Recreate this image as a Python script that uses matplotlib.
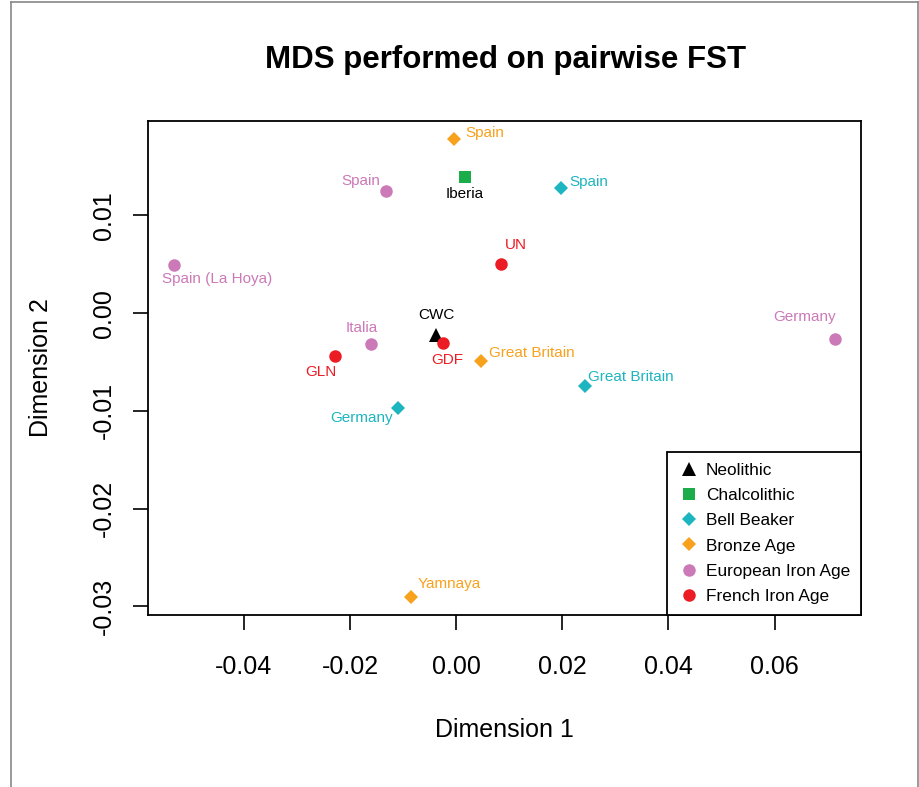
import matplotlib
matplotlib.use("Agg")
import matplotlib.pyplot as plt
from matplotlib.lines import Line2D

plt.rcParams['font.family'] = ['Liberation Sans', 'DejaVu Sans']

# populations
names = ["CWC", "Iberia", "Spain", "Great Britain", "Germany",
         "Spain", "Great Britain", "Yamnaya",
         "Spain", "Spain (La Hoya)", "Italia", "Germany",
         "UN", "GDF", "GLN"]
groups = ["Neolithic", "Chalcolithic", "Bell Beaker", "Bell Beaker", "Bell Beaker",
          "Bronze Age", "Bronze Age", "Bronze Age",
          "European Iron Age", "European Iron Age", "European Iron Age", "European Iron Age",
          "French Iron Age", "French Iron Age", "French Iron Age"]
dim1 = [-0.0039, 0.0016, 0.0197, 0.0243, -0.0109,
        -0.0004, 0.0046, -0.0085,
        -0.0132, -0.0531, -0.0160, 0.0714,
        0.0084, -0.0024, -0.0228]
dim2 = [-0.0022, 0.0139, 0.0128, -0.0075, -0.0097,
        0.0178, -0.0049, -0.0290,
        0.0125, 0.0049, -0.0032, -0.0027,
        0.0050, -0.0031, -0.0044]

group_order = ["Neolithic", "Chalcolithic", "Bell Beaker", "Bronze Age",
               "European Iron Age", "French Iron Age"]
group_col = {"Neolithic": "black", "Chalcolithic": "#1aad4a", "Bell Beaker": "#1db5c0",
             "Bronze Age": "#f7a11c", "European Iron Age": "#cc79b8",
             "French Iron Age": "#ec1c24"}
group_mark = {"Neolithic": ("^", 10), "Chalcolithic": ("s", 8.5), "Bell Beaker": ("D", 7),
              "Bronze Age": ("D", 7), "European Iron Age": ("o", 9),
              "French Iron Age": ("o", 9)}
black_labels = ["CWC", "Iberia"]

# label placement (offset in points, horizontal alignment), like R's text(pos=)
label_pos = [((0.5, 14), "center"), ((0, -12), "center"), ((6, 4), "left"),
             ((2, 7), "left"), ((-4, -7), "right"),
             ((8, 4), "left"), ((6, 6), "left"), ((4.5, 9), "left"),
             ((-4, 7), "right"), ((-9, -10), "left"), ((-7, 11.5), "center"),
             ((-22, 16), "center"),
             ((11, 14), "center"), ((3, -12), "center"), ((-10, -11.5), "center")]

fig = plt.figure(figsize=(9.2, 7.87), dpi=100)
ax = fig.add_axes([0.1609, 0.2186, 0.7755, 0.628])

for i in range(len(names)):
    g = groups[i]
    m, ms = group_mark[g]
    ax.plot(dim1[i], dim2[i], linestyle="none", marker=m, markersize=ms,
            color=group_col[g], markeredgewidth=0, zorder=3)
    (dx, dy), ha = label_pos[i]
    tcol = "black" if (names[i] in black_labels and g in ["Neolithic", "Chalcolithic"]) else group_col[g]
    ax.annotate(names[i], (dim1[i], dim2[i]), xytext=(dx, dy), textcoords="offset points",
                ha=ha, va="center", fontsize=11, color=tcol)

# R style axis range: data range + 4%
xr = max(dim1) - min(dim1)
yr = max(dim2) - min(dim2)
ax.set_xlim(min(dim1) - 0.04 * xr, max(dim1) + 0.04 * xr)
ax.set_ylim(min(dim2) - 0.04 * yr, max(dim2) + 0.04 * yr)

ax.set_xticks([-0.04, -0.02, 0.00, 0.02, 0.04, 0.06])
ax.set_xticklabels(["-0.04", "-0.02", "0.00", "0.02", "0.04", "0.06"])
ax.set_yticks([-0.03, -0.02, -0.01, 0.00, 0.01])
ax.set_yticklabels(["-0.03", "-0.02", "-0.01", "0.00", "0.01"], rotation=90, va="center")
ax.tick_params(direction="out", length=11, width=1.2, labelsize=18, pad=12)
ax.tick_params(axis="x", pad=18)
for s in ax.spines.values():
    s.set_linewidth(1.3)

ax.set_xlabel("Dimension 1", fontsize=18, labelpad=28)
ax.set_ylabel("Dimension 2", fontsize=18, labelpad=28)
fig.text(0.549, 0.924, "MDS performed on pairwise FST", ha="center", va="center",
         fontsize=22.5, fontweight="bold")

handles = []
for g in group_order:
    m, ms = group_mark[g]
    handles.append(Line2D([], [], linestyle="none", marker=m, markersize=ms,
                          color=group_col[g], markeredgewidth=0, label=g))
leg = ax.legend(handles=handles, loc="lower right", bbox_to_anchor=(1, 0),
                borderaxespad=0, fontsize=12.4, fancybox=False, framealpha=1,
                edgecolor="black", handletextpad=0.4, labelspacing=0.58,
                borderpad=0.66, handlelength=1.2)
leg.get_frame().set_linewidth(1.3)

# panel border
fig.add_artist(Line2D([11 / 920, 11 / 920], [0, 1 - 2 / 787], color="#888888", lw=1.2))
fig.add_artist(Line2D([11 / 920, 918 / 920], [1 - 2 / 787, 1 - 2 / 787], color="#888888", lw=1.2))
fig.add_artist(Line2D([918 / 920, 918 / 920], [0, 1 - 2 / 787], color="#888888", lw=1.2))

fig.savefig("out.png", dpi=100)
